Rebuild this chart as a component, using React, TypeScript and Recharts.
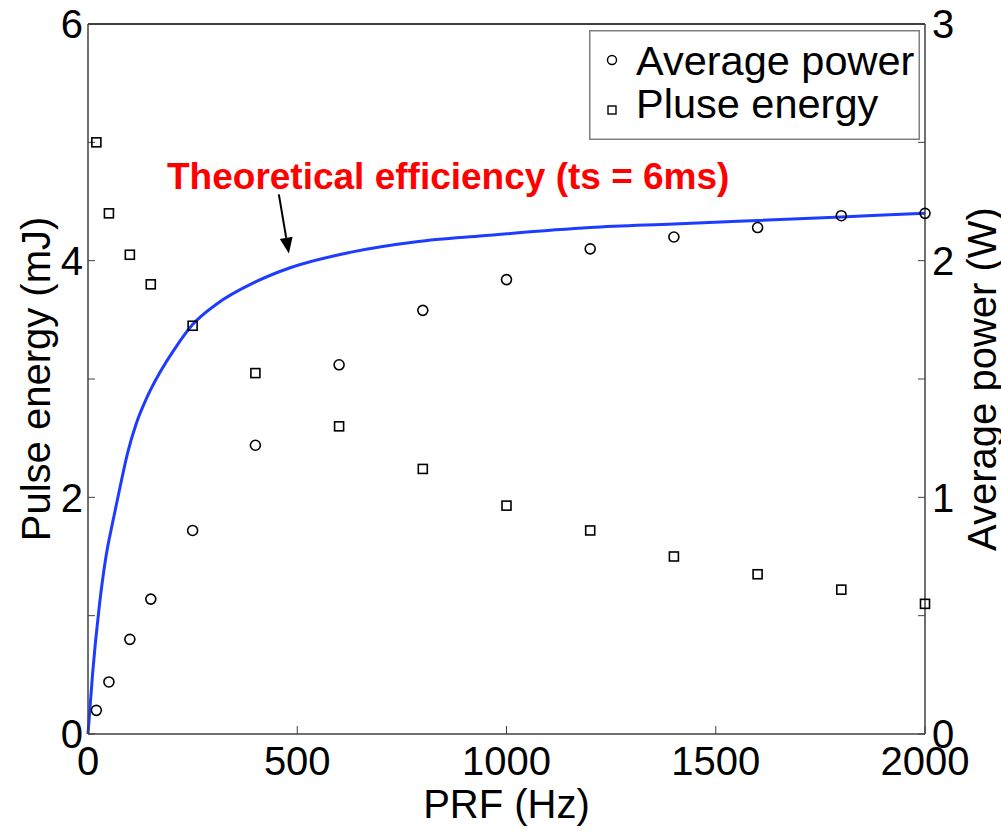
import { ComposedChart, Line, Scatter, XAxis, YAxis, ReferenceLine } from "recharts";

const prfHz = [20, 50, 100, 150, 250, 400, 600, 800, 1000, 1200, 1400, 1600, 1800, 2000];
const pulseEnergy = [5.0, 4.4, 4.05, 3.8, 3.45, 3.05, 2.6, 2.24, 1.93, 1.72, 1.5, 1.35, 1.22, 1.1];
const averagePower = [0.1, 0.22, 0.4, 0.57, 0.86, 1.22, 1.56, 1.79, 1.92, 2.05, 2.1, 2.14, 2.19, 2.2];

// theoretical curve (left axis units)
const theoryPrf = [0, 2, 11, 27, 43, 59, 75, 95, 115, 139, 171, 210, 250, 306, 400, 483, 626, 785, 944, 1200, 1400, 1600, 1800, 2000];
const theoryEnergy = [0, 0.09, 0.51, 1.08, 1.5, 1.79, 2.06, 2.38, 2.62, 2.83, 3.05, 3.27, 3.46, 3.63, 3.82, 3.94, 4.07, 4.16, 4.21, 4.28, 4.31, 4.34, 4.37, 4.4];

const xTicks = [0, 500, 1000, 1500, 2000];
const leftTicks = [0, 1, 2, 3, 4, 5, 6];
const rightTicks = [0, 0.5, 1, 1.5, 2, 2.5, 3];

const energyData = prfHz.map((x, i) => ({ x, y: pulseEnergy[i] }));
const powerData = prfHz.map((x, i) => ({ x, y: averagePower[i] }));
const theoryData = theoryPrf.map((x, i) => ({ x, y: theoryEnergy[i] }));

const FONT = '"Liberation Sans", Arial, sans-serif';
const AXIS = "#404040";
const tickStyle = { fontSize: 40, fill: "#000", fontFamily: FONT };

function CircleMark(props: any) {
  return <circle cx={props.cx} cy={props.cy} r={5} fill="none" stroke="#000" strokeWidth={1.6} />;
}

function SquareMark(props: any) {
  return <rect x={props.cx - 4.5} y={props.cy - 4.5} width={9} height={9} fill="none" stroke="#000" strokeWidth={1.6} />;
}

function Arrow(props: any) {
  const { x1, y1, x2, y2 } = props;
  const dx = x2 - x1;
  const dy = y2 - y1;
  const len = Math.sqrt(dx * dx + dy * dy);
  const ux = dx / len;
  const uy = dy / len;
  const hl = 16;
  const hw = 6.5;
  const bx = x2 - ux * hl;
  const by = y2 - uy * hl;
  const pts = `${x2},${y2} ${bx - uy * hw},${by + ux * hw} ${bx + uy * hw},${by - ux * hw}`;
  return (
    <g>
      <line x1={x1} y1={y1} x2={bx} y2={by} stroke="#000" strokeWidth={2} />
      <polygon points={pts} fill="#000" />
    </g>
  );
}

function LegendBox() {
  return (
    <svg width={331} height={110} style={{ display: "block" }}>
      <rect x={0.75} y={0.75} width={329.5} height={108.5} fill="#fff" stroke="#808080" strokeWidth={1.5} />
      <circle cx={23} cy={30} r={4.5} fill="none" stroke="#000" strokeWidth={1.4} />
      <text x={47} y={45} fontSize={41.5} fontFamily={FONT} fill="#000">Average power</text>
      <rect x={19} y={76} width={8} height={8} fill="none" stroke="#000" strokeWidth={1.4} />
      <text x={47} y={88} fontSize={41.5} fontFamily={FONT} fill="#000">Pluse energy</text>
    </svg>
  );
}

export default function App() {
  return (
    <div style={{ position: "absolute", left: 0, top: 0, width: 1001, height: 831, background: "#fff" }}>
      <ComposedChart width={1001} height={831} margin={{ top: 0, right: 0, left: 0, bottom: 0 }}>
        <XAxis
          xAxisId="top"
          orientation="top"
          type="number"
          dataKey="x"
          domain={[0, 2000]}
          ticks={xTicks}
          height={24}
          tickSize={-8}
          tickFormatter={() => ""}
          axisLine={{ stroke: "#000", strokeWidth: 1.5 }}
          tickLine={{ stroke: AXIS }}
        />
        <XAxis
          type="number"
          dataKey="x"
          domain={[0, 2000]}
          ticks={xTicks}
          interval={0}
          height={97}
          tickSize={-8}
          tickMargin={21}
          tick={tickStyle}
          axisLine={{ stroke: AXIS, strokeWidth: 1.5 }}
          tickLine={{ stroke: AXIS }}
          label={{
            content: (p: any) => (
              <text x={p.viewBox.x + p.viewBox.width / 2} y={818} textAnchor="middle" fontSize={40} fontFamily={FONT} fill="#000">
                PRF (Hz)
              </text>
            ),
          }}
        />
        <YAxis
          yAxisId="left"
          dataKey="y"
          domain={[0, 6]}
          ticks={leftTicks}
          interval={0}
          width={88}
          tickSize={-7}
          tickMargin={12}
          tick={tickStyle}
          tickFormatter={(v: number) => (v % 2 === 0 ? String(v) : "")}
          axisLine={{ stroke: AXIS, strokeWidth: 1.5 }}
          tickLine={{ stroke: AXIS }}
          label={{
            content: (p: any) => {
              const cy = p.viewBox.y + p.viewBox.height / 2;
              return (
                <text x={50} y={cy} transform={`rotate(-90, 50, ${cy})`} textAnchor="middle" fontSize={40} fontFamily={FONT} fill="#000">
                  Pulse energy (mJ)
                </text>
              );
            },
          }}
        />
        <YAxis
          yAxisId="right"
          orientation="right"
          dataKey="y"
          domain={[0, 3]}
          ticks={rightTicks}
          interval={0}
          width={76}
          tickSize={-7}
          tickMargin={14}
          tick={tickStyle}
          tickFormatter={(v: number) => (Number.isInteger(v) ? String(v) : "")}
          axisLine={{ stroke: AXIS, strokeWidth: 1.5 }}
          tickLine={{ stroke: AXIS }}
          label={{
            content: (p: any) => {
              const cy = p.viewBox.y + p.viewBox.height / 2;
              return (
                <text x={996} y={cy} transform={`rotate(-90, 996, ${cy})`} textAnchor="middle" fontSize={40} fontFamily={FONT} fill="#000">
                  Average power (W)
                </text>
              );
            },
          }}
        />
        <Line
          yAxisId="left"
          data={theoryData}
          dataKey="y"
          type="monotone"
          stroke="#1e3cff"
          strokeWidth={3}
          dot={false}
          isAnimationActive={false}
        />
        <Scatter
          yAxisId="right"
          data={powerData}
          dataKey="y"
          name="Average power"
          shape={CircleMark}
          isAnimationActive={false}
        />
        <Scatter
          yAxisId="left"
          data={energyData}
          dataKey="y"
          name="Pluse energy"
          shape={SquareMark}
          isAnimationActive={false}
        />
        <ReferenceLine
          yAxisId="left"
          segment={[
            { x: 456, y: 4.56 },
            { x: 480, y: 4.06 },
          ]}
          shape={Arrow}
        />
      </ComposedChart>
      <div style={{ position: "absolute", left: 589, top: 30 }}>
        <LegendBox />
      </div>
      <div
        style={{
          position: "absolute",
          left: 167,
          top: 158,
          fontFamily: FONT,
          fontWeight: "bold",
          fontSize: 37,
          lineHeight: 1,
          color: "#ff0000",
          whiteSpace: "nowrap",
        }}
      >
        Theoretical efficiency (ts = 6ms)
      </div>
    </div>
  );
}
